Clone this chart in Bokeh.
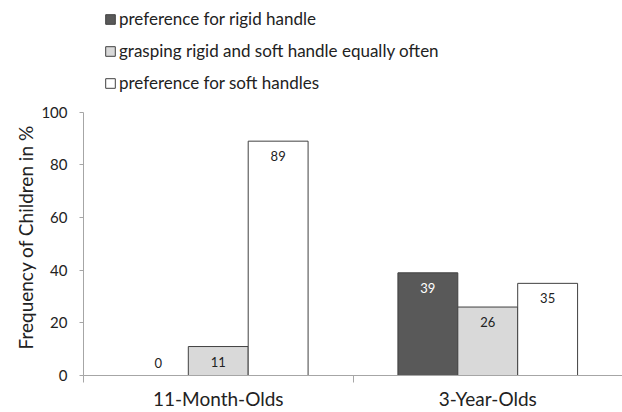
from bokeh.plotting import figure
from bokeh.models import ColumnDataSource, Range1d, FixedTicker, Legend, LegendItem, Title
from bokeh.core.properties import value
from bokeh.embed import file_html
from bokeh.resources import INLINE

groups = ["11-Month-Olds", "3-Year-Olds"]
series = ["preference for rigid handle",
          "grasping rigid and soft handle equally often",
          "preference for soft handles"]
rigid = [0, 39]
equal = [11, 26]
soft = [89, 35]
y_ticks = [0, 20, 40, 60, 80, 100]
y_title = "Frequency of Children in %"

values = [rigid, equal, soft]
fills = ["#595959", "#d9d9d9", "#ffffff"]
inside_colors = ["#ffffff", "#222222", "#222222"]
FONT = "Lato"

W, H = 622, 412
frame_bottom = 376
frame_top_canvas = 0
px_per_unit = (376 - 112) / 100.0
y_end = (frame_bottom - frame_top_canvas) / px_per_unit

p = figure(width=W, height=H, output_backend="svg", toolbar_location=None,
           x_range=Range1d(0, len(groups)), y_range=Range1d(0, y_end),
           min_border_left=83, min_border_right=0, min_border_top=0,
           min_border_bottom=H - frame_bottom)
p.outline_line_color = None
p.xgrid.visible = False
p.ygrid.visible = False
p.background_fill_color = "white"
p.border_fill_color = "white"

bw = 2.0 / 9.0
offsets = [-bw, 0.0, bw]
renderers = []
for k, (vals, fc, ic) in enumerate(zip(values, fills, inside_colors)):
    xs = [i + 0.5 + offsets[k] for i in range(len(groups))]
    src = ColumnDataSource(dict(x=xs, top=vals,
                                lab=[str(v) for v in vals],
                                yoff=[15 if v > 0 else -13 for v in vals],
                                col=[ic if v > 0 else "#222222" for v in vals]))
    r = p.vbar(x="x", top="top", width=bw, source=src, fill_color=fc,
               line_color="#404040", line_width=1)
    renderers.append(r)
    p.text(x="x", y="top", text="lab", y_offset="yoff", source=src,
           text_align="center", text_baseline="middle",
           text_font=value(FONT), text_font_size="13px", text_color="col")

# axes
ya = p.yaxis[0]
ya.ticker = FixedTicker(ticks=y_ticks)
ya.bounds = (0, 100)
ya.axis_line_color = "#a6a6a6"
ya.major_tick_line_color = "#a6a6a6"
ya.major_tick_out = 4
ya.major_tick_in = 0
ya.minor_tick_line_color = None
ya.major_label_standoff = 12
ya.major_label_text_font = FONT
ya.major_label_text_font_size = "15px"
ya.major_label_text_color = "#222222"

# y-axis title, aligned along the visible 0-100 part of the axis
p.add_layout(Title(text=y_title, align="left", offset=26, standoff=3,
                   text_font=FONT, text_font_size="19px",
                   text_font_style="normal", text_color="#222222"), "left")

xa = p.xaxis[0]
xa.ticker = FixedTicker(ticks=[i + 0.5 for i in range(len(groups))],
                        minor_ticks=list(range(len(groups) + 1)))
xa.major_label_overrides = {i + 0.5: g for i, g in enumerate(groups)}
xa.axis_line_color = "#a6a6a6"
xa.major_tick_line_color = None
xa.major_tick_out = 0
xa.major_tick_in = 0
xa.minor_tick_line_color = "#a6a6a6"
xa.minor_tick_out = 7
xa.minor_tick_in = 0
xa.major_label_standoff = 4
xa.major_label_text_font = FONT
xa.major_label_text_font_size = "19px"
xa.major_label_text_color = "#222222"

legend = Legend(items=[LegendItem(label=s, renderers=[r]) for s, r in zip(series, renderers)],
                location=(21, 282), orientation="vertical",
                padding=0, margin=0, spacing=11,
                label_height=20, glyph_height=12, glyph_width=12,
                label_standoff=3, label_text_font=FONT,
                label_text_font_size="17px", label_text_color="#222222",
                border_line_color=None, background_fill_alpha=0)
p.add_layout(legend)

open("out.html", "w").write(file_html(p, INLINE))
